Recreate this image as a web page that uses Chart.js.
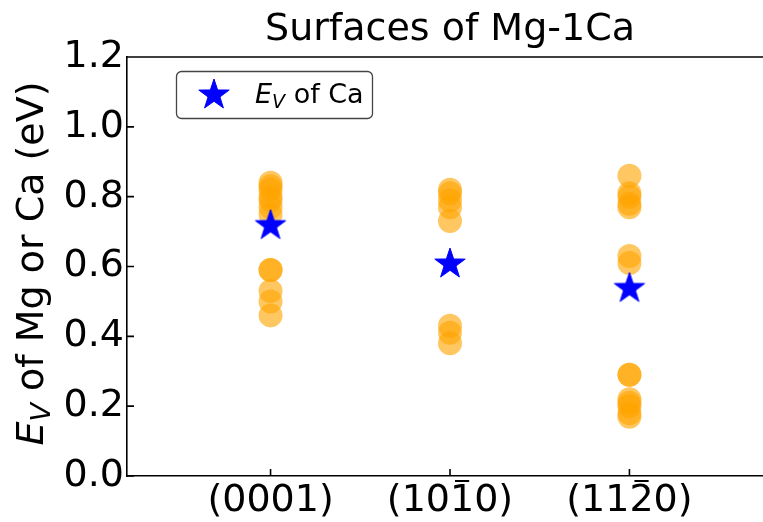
<!DOCTYPE html>
<html>
<head>
<meta charset="utf-8">
<script src="https://cdn.jsdelivr.net/npm/chart.js@4"></script>
<style>
  html, body { margin: 0; padding: 0; background: #fff; overflow: hidden; width: 763px; height: 522px; }
  #wrap { width: 800px; height: 522px; }
</style>
</head>
<body>
<div id="wrap"><canvas id="chart" width="800" height="522"></canvas></div>
<script>
// ---- data ----
const categories = ['(0001)', '(101\u03050)', '(112\u03050)'];
const evMg0001 = [0.84, 0.83, 0.82, 0.80, 0.79, 0.77, 0.75, 0.59, 0.59, 0.53, 0.50, 0.46];
const evMg1010 = [0.82, 0.81, 0.79, 0.77, 0.73, 0.43, 0.41, 0.38];
const evMg1120 = [0.86, 0.81, 0.80, 0.78, 0.77, 0.63, 0.61, 0.29, 0.29, 0.22, 0.21, 0.20, 0.18, 0.17];
const evCa = [0.72, 0.61, 0.54];
const yTicks = [0, 0.2, 0.4, 0.6, 0.8, 1.0, 1.2];

const FONT = "'DejaVu Sans'";
const BAR = '\u0305';

// orange points, one group per surface
const mgPoints = [];
[evMg0001, evMg1010, evMg1120].forEach((arr, i) => {
  arr.forEach((v) => mgPoints.push({ x: i, y: v }));
});
const caPoints = evCa.map((v, i) => ({ x: i, y: v }));

// filled 5-point star marker
function makeStar(size, color) {
  const c = document.createElement('canvas');
  c.width = size; c.height = size;
  const g = c.getContext('2d');
  const R = size / 2 - 1, r = R * 0.39, cx = size / 2, cy = size / 2 + 1;
  g.beginPath();
  for (let k = 0; k < 10; k++) {
    const rad = k % 2 ? r : R;
    const a = -Math.PI / 2 + k * Math.PI / 5;
    g.lineTo(cx + rad * Math.cos(a), cy + rad * Math.sin(a));
  }
  g.closePath();
  g.fillStyle = color; g.fill();
  g.strokeStyle = color; g.lineWidth = 1; g.stroke();
  return c;
}
const star = makeStar(34, '#0000ff');

// top spine, inward ticks, overbars, y title, legend
const decor = {
  id: 'decor',
  afterDraw(chart) {
    const { ctx, chartArea: a, scales } = chart;
    ctx.save();
    ctx.strokeStyle = '#000';
    ctx.lineWidth = 1.6;
    ctx.beginPath();
    ctx.moveTo(a.left, a.top); ctx.lineTo(a.right, a.top);
    yTicks.forEach((t) => {
      const y = scales.y.getPixelForValue(t);
      ctx.moveTo(a.left, y); ctx.lineTo(a.left + 7, y);
    });
    categories.forEach((c, i) => {
      const x = scales.x.getPixelForValue(i);
      ctx.moveTo(x, a.bottom); ctx.lineTo(x, a.bottom - 7);
    });
    ctx.stroke();

    // overbar on the Miller-Bravais index digit
    ctx.font = '38px ' + FONT;
    ctx.lineWidth = 2;
    ctx.beginPath();
    categories.forEach((c, i) => {
      const k = c.indexOf(BAR);
      if (k < 1) return;
      const plain = c.replace(BAR, '');
      const x0 = scales.x.getPixelForValue(i) - ctx.measureText(plain).width / 2;
      const pre = ctx.measureText(plain.slice(0, k - 1)).width;
      const dw = ctx.measureText(plain[k - 1]).width;
      ctx.moveTo(x0 + pre + 5, a.bottom + 5);
      ctx.lineTo(x0 + pre + dw - 5, a.bottom + 5);
    });
    ctx.stroke();

    // y axis title: E_V of Mg or Ca (eV)
    ctx.translate(43, (a.top + a.bottom) / 2 - 3);
    ctx.rotate(-Math.PI / 2);
    ctx.fillStyle = '#000';
    ctx.textBaseline = 'alphabetic';
    const big = 38, sub = 27;
    const parts = [
      { t: 'E', f: 'italic ' + big + 'px ' + FONT, dy: 0 },
      { t: 'V', f: 'italic ' + sub + 'px ' + FONT, dy: 7 },
      { t: ' of Mg or Ca (eV)', f: big + 'px ' + FONT, dy: 0 },
    ];
    let w = 0;
    parts.forEach((p) => { ctx.font = p.f; p.w = ctx.measureText(p.t).width; w += p.w; });
    let x = -w / 2;
    parts.forEach((p) => { ctx.font = p.f; ctx.fillText(p.t, x, p.dy); x += p.w; });
    ctx.restore();

    // legend
    ctx.save();
    const lx = 176.5, ly = 71.5, lw = 196, lh = 47;
    ctx.beginPath();
    ctx.roundRect(lx, ly, lw, lh, 5);
    ctx.fillStyle = 'rgba(255,255,255,0.8)';
    ctx.fill();
    ctx.strokeStyle = '#444';
    ctx.lineWidth = 1.3;
    ctx.stroke();
    ctx.drawImage(star, 214 - 17, 94 - 17);
    ctx.fillStyle = '#000';
    let tx = 255;
    ctx.font = 'italic 27px ' + FONT;
    ctx.fillText('E', tx, 103); tx += ctx.measureText('E').width;
    ctx.font = 'italic 19px ' + FONT;
    ctx.fillText('V', tx, 108); tx += ctx.measureText('V').width;
    ctx.font = '27px ' + FONT;
    ctx.fillText(' of Ca', tx, 103);
    ctx.restore();
  },
};

new Chart(document.getElementById('chart'), {
  type: 'scatter',
  data: {
    datasets: [
      {
        label: 'Ca',
        data: caPoints,
        pointStyle: star,
        order: -1,
      },
      {
        label: 'Mg',
        data: mgPoints,
        pointRadius: 12,
        backgroundColor: 'rgba(255,165,0,0.62)',
        borderWidth: 0,
        order: 1,
      },
    ],
  },
  options: {
    responsive: false,
    animation: false,
    layout: { autoPadding: false, padding: { left: 0, top: 0, bottom: 0, right: 27 } },
    plugins: {
      legend: { display: false },
      tooltip: { enabled: false },
      title: {
        display: true,
        fullSize: false,
        text: 'Surfaces of Mg-1Ca',
        color: '#000',
        font: { family: FONT, size: 38, weight: 'normal' },
        padding: { top: 7, bottom: 4.4 },
      },
    },
    scales: {
      x: {
        type: 'linear',
        min: -0.8,
        max: 2.8,
        afterBuildTicks: (s) => { s.ticks = categories.map((c, i) => ({ value: i })); },
        afterFit: (s) => { s.height = 46; },
        grid: { drawOnChartArea: false, drawTicks: false },
        border: { display: true, color: '#000', width: 1.6 },
        ticks: {
          padding: 2,
          color: '#000',
          font: { family: FONT, size: 38 },
          callback: (v) => categories[v].replace(BAR, ''),
        },
      },
      y: {
        min: 0,
        max: 1.2,
        afterBuildTicks: (s) => { s.ticks = yTicks.map((v) => ({ value: v })); },
        afterFit: (s) => { s.width = 127; },
        grid: { drawOnChartArea: false, drawTicks: false },
        border: { display: true, color: '#000', width: 1.6 },
        ticks: {
          padding: 3,
          color: '#000',
          font: { family: FONT, size: 38 },
          callback: (v) => v.toFixed(1),
        },
      },
    },
  },
  plugins: [decor],
});
</script>
</body>
</html>
